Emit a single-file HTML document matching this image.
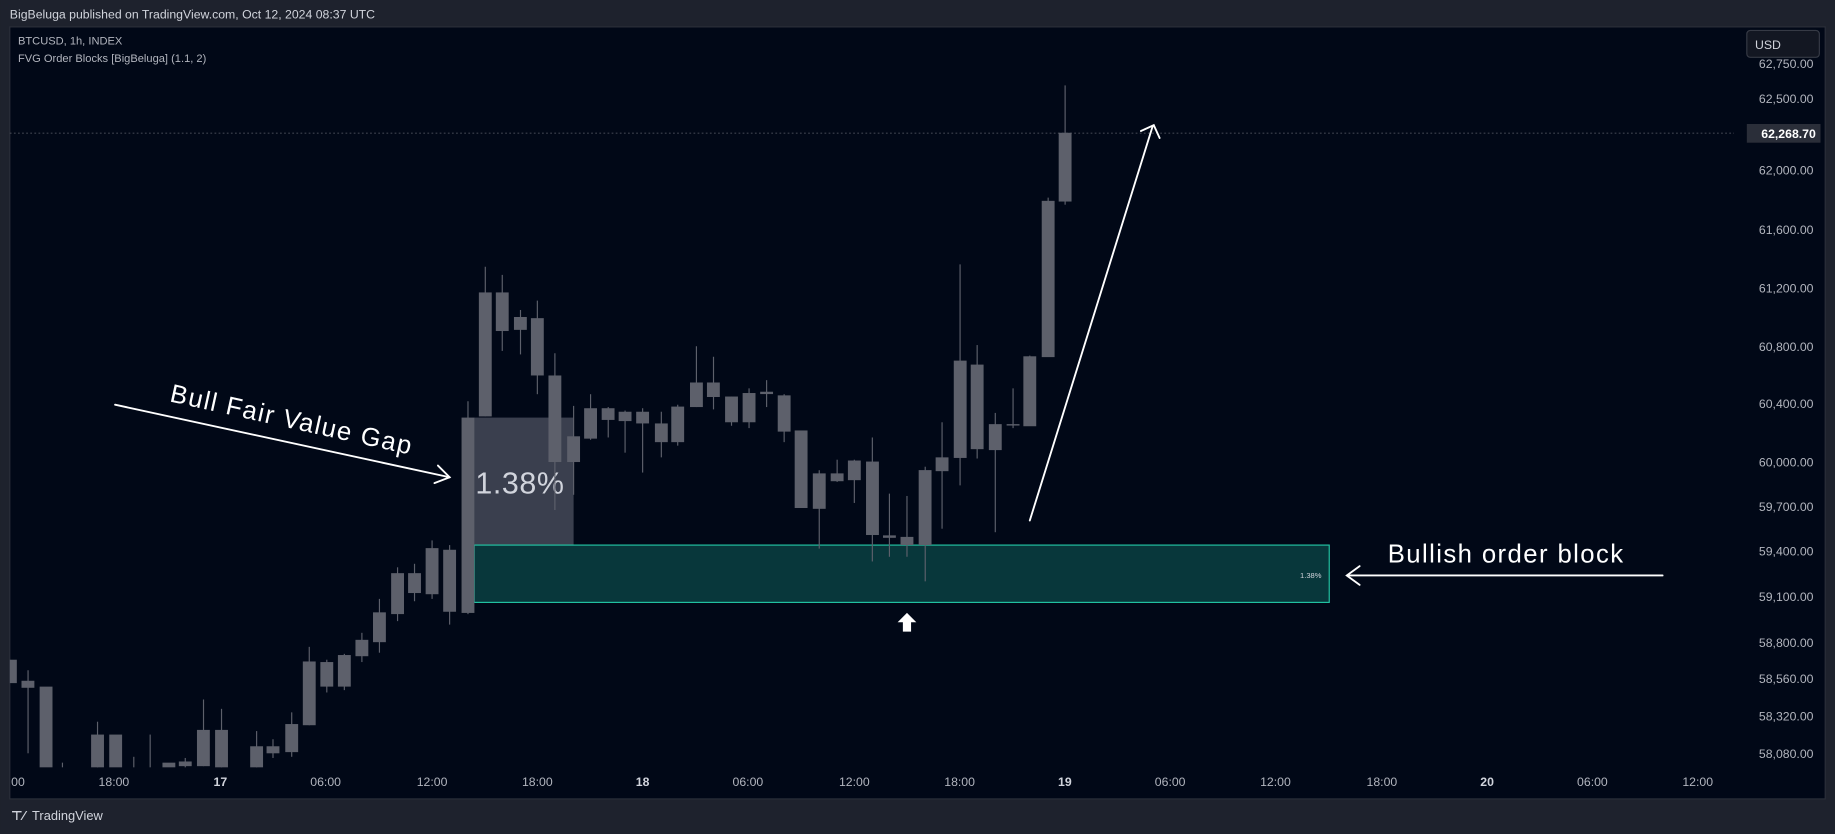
<!DOCTYPE html>
<html><head><meta charset="utf-8"><style>
html,body{margin:0;padding:0;background:#1e222d;}
svg{display:block}
text{font-family:"Liberation Sans","DejaVu Sans",sans-serif;}
</style></head><body>
<svg width="1835" height="834" viewBox="0 0 1568 713" xmlns="http://www.w3.org/2000/svg">
<rect x="0" y="0" width="1568" height="713" fill="#1e222d"/>
<text x="8" y="16" font-size="10.5" fill="#d1d4dc">BigBeluga published on TradingView.com, Oct 12, 2024 08:37 UTC</text>
<rect x="8" y="23" width="1552" height="660" fill="#010817" stroke="#2a2e39" stroke-width="1"/>
<text x="15" y="38" font-size="9.5" fill="#b2b5be">BTCUSD, 1h, INDEX</text>
<text x="15" y="53" font-size="9.5" fill="#b2b5be">FVG Order Blocks [BigBeluga] (1.1, 2)</text>
<rect x="405" y="357" width="85" height="109" fill="#3a3f4e"/>
<rect x="405" y="466" width="731" height="49" fill="#08373b" stroke="#22c4a3" stroke-width="1"/>
<text x="406" y="422" font-size="26" fill="#d1d4dc" letter-spacing="0.5">1.38%</text>
<text x="1111" y="494" font-size="6.5" fill="#d1d4dc">1.38%</text>
<line x1="8" y1="113.8" x2="1482" y2="113.8" stroke="#5d606b" stroke-width="0.6" stroke-dasharray="1.5,2"/>
<g stroke="#5d606b" stroke-width="1" fill="#5d606b">
<line x1="23.6" y1="573" x2="23.6" y2="644"/><line x1="53" y1="652" x2="53" y2="656"/><line x1="83" y1="617" x2="83" y2="656"/><line x1="114" y1="647" x2="114" y2="656"/><line x1="128" y1="628" x2="128" y2="656"/><line x1="158" y1="648" x2="158" y2="656"/><line x1="173.6" y1="598" x2="173.6" y2="655"/><line x1="189" y1="606" x2="189" y2="656"/><line x1="219" y1="625" x2="219" y2="656"/><line x1="233" y1="632" x2="233" y2="648"/><line x1="249" y1="609" x2="249" y2="647"/><line x1="264" y1="553" x2="264" y2="620"/><line x1="279" y1="564" x2="279" y2="592"/><line x1="294" y1="559" x2="294" y2="590"/><line x1="309" y1="541" x2="309" y2="566"/><line x1="324" y1="512" x2="324" y2="558"/><line x1="339.5" y1="485" x2="339.5" y2="531"/><line x1="354" y1="482" x2="354" y2="514"/><line x1="369" y1="462" x2="369" y2="512"/><line x1="384" y1="466" x2="384" y2="534"/><line x1="399.7" y1="343" x2="399.7" y2="525"/><line x1="414.5" y1="228" x2="414.5" y2="356"/><line x1="429" y1="235" x2="429" y2="300"/><line x1="444.6" y1="265" x2="444.6" y2="303"/><line x1="459" y1="257" x2="459" y2="337"/><line x1="474" y1="302" x2="474" y2="436"/><line x1="490" y1="347" x2="490" y2="423"/><line x1="504.5" y1="337" x2="504.5" y2="376"/><line x1="519.6" y1="348" x2="519.6" y2="374"/><line x1="534" y1="351" x2="534" y2="387"/><line x1="549" y1="349" x2="549" y2="404"/><line x1="565" y1="352" x2="565" y2="391"/><line x1="579" y1="346" x2="579" y2="381"/><line x1="595" y1="296" x2="595" y2="348"/><line x1="609.6" y1="305" x2="609.6" y2="350"/><line x1="625" y1="339" x2="625" y2="364"/><line x1="640" y1="332" x2="640" y2="366"/><line x1="655" y1="325" x2="655" y2="348"/><line x1="670" y1="337" x2="670" y2="378"/><line x1="700" y1="402" x2="700" y2="469"/><line x1="715.3" y1="393" x2="715.3" y2="412"/><line x1="730" y1="393" x2="730" y2="430"/><line x1="745.4" y1="374" x2="745.4" y2="480"/><line x1="760" y1="422" x2="760" y2="476"/><line x1="775" y1="424" x2="775" y2="476"/><line x1="790.6" y1="399" x2="790.6" y2="497"/><line x1="805" y1="361" x2="805" y2="452"/><line x1="820.4" y1="226" x2="820.4" y2="415"/><line x1="835" y1="295" x2="835" y2="392"/><line x1="850.5" y1="353" x2="850.5" y2="455"/><line x1="865.7" y1="332" x2="865.7" y2="366"/><line x1="880" y1="304" x2="880" y2="364"/><line x1="895.7" y1="169" x2="895.7" y2="305"/><line x1="910.2" y1="73" x2="910.2" y2="175"/>
</g>
<g fill="#5d606b">
<rect x="8" y="564" width="6" height="20"/><rect x="18" y="582" width="11" height="6"/><rect x="33.5" y="587" width="11" height="69"/><rect x="77.5" y="628" width="11" height="28"/><rect x="93" y="628" width="11" height="28"/><rect x="138.5" y="652" width="11" height="4"/><rect x="152.5" y="651" width="11" height="4"/><rect x="168" y="624" width="11" height="31"/><rect x="183.5" y="624" width="11" height="32"/><rect x="213.5" y="638" width="11" height="18"/><rect x="227.5" y="638" width="11" height="6"/><rect x="243.5" y="619" width="11" height="24"/><rect x="258.5" y="565.5" width="11" height="54.5"/><rect x="273.5" y="566" width="11" height="21"/><rect x="288.5" y="560" width="11" height="27"/><rect x="303.5" y="547" width="11" height="14"/><rect x="318.5" y="523.5" width="11" height="25.5"/><rect x="334" y="490" width="11" height="35"/><rect x="348.5" y="490" width="11" height="17"/><rect x="363.5" y="468.6" width="11" height="39.4"/><rect x="378.5" y="470" width="11" height="53"/><rect x="394.2" y="357" width="11" height="167"/><rect x="409" y="250" width="11" height="106"/><rect x="423.5" y="250" width="11" height="33"/><rect x="439" y="271" width="11" height="11"/><rect x="453.5" y="272" width="11" height="49"/><rect x="468.5" y="321" width="11" height="74"/><rect x="484.5" y="373" width="11" height="22"/><rect x="499" y="349" width="11" height="26"/><rect x="514" y="349" width="11" height="10"/><rect x="528.5" y="352" width="11" height="8"/><rect x="543.5" y="352" width="11" height="10"/><rect x="559.5" y="362" width="11" height="16"/><rect x="573.5" y="347.6" width="11" height="30.4"/><rect x="589.5" y="327" width="11" height="21"/><rect x="604" y="327" width="11" height="12.4"/><rect x="619.5" y="339" width="11" height="22"/><rect x="634.5" y="336" width="11" height="25"/><rect x="649.5" y="334.9" width="11" height="2"/><rect x="664.5" y="338" width="11" height="31"/><rect x="679" y="368" width="11" height="66.3"/><rect x="694.5" y="404.7" width="11" height="30.3"/><rect x="709.8" y="404.7" width="11" height="6.7"/><rect x="724.5" y="393.7" width="11" height="16.8"/><rect x="740" y="394.6" width="11" height="62.8"/><rect x="754.5" y="457.7" width="11" height="2.1"/><rect x="769.5" y="459" width="11" height="7"/><rect x="785" y="401.9" width="11" height="64.1"/><rect x="799.5" y="391" width="11" height="11.8"/><rect x="815" y="308.3" width="11" height="83.2"/><rect x="829.5" y="311.7" width="11" height="72.3"/><rect x="845" y="362.6" width="11" height="22.2"/><rect x="860.2" y="362.6" width="11" height="1.2"/><rect x="874.5" y="304.6" width="11" height="59.8"/><rect x="890.2" y="171.7" width="11" height="133.6"/><rect x="904.7" y="113.5" width="11" height="58.8"/>
</g>
<g stroke="#ffffff" stroke-width="1.6" fill="none" stroke-linecap="round">
<line x1="98" y1="346" x2="384" y2="408"/><polyline points="374,398 384,408 371,413"/>
<line x1="880" y1="445" x2="985" y2="108"/><polyline points="975,112 986,107 991,118"/>
<line x1="1421" y1="492" x2="1152" y2="492"/><polyline points="1162,484 1151,492 1162,500"/>
</g>
<text x="0" y="0" font-size="22" fill="#ffffff" letter-spacing="1.2" transform="translate(144,343) rotate(12.5)">Bull Fair Value Gap</text>
<text x="1186" y="481" font-size="22" fill="#ffffff" letter-spacing="1.2">Bullish order block</text>
<polygon points="775,524 767,532 771.5,532 771.5,540 778.5,540 778.5,532 783,532" fill="#ffffff"/>
<g font-size="10.5" fill="#b2b5be" text-anchor="end">
<text x="1550" y="58">62,750.00</text><text x="1550" y="88">62,500.00</text><text x="1550" y="149">62,000.00</text><text x="1550" y="200">61,600.00</text><text x="1550" y="250">61,200.00</text><text x="1550" y="300">60,800.00</text><text x="1550" y="349">60,400.00</text><text x="1550" y="399">60,000.00</text><text x="1550" y="437">59,700.00</text><text x="1550" y="475">59,400.00</text><text x="1550" y="514">59,100.00</text><text x="1550" y="553">58,800.00</text><text x="1550" y="584">58,560.00</text><text x="1550" y="616">58,320.00</text><text x="1550" y="648">58,080.00</text>
</g>
<rect x="1493" y="26" width="62" height="23" rx="3" fill="#131722" stroke="#363a45"/>
<text x="1500" y="42" font-size="10.5" fill="#d1d4dc">USD</text>
<rect x="1493" y="106" width="63" height="16" fill="#2a2e39"/>
<text x="1552" y="118" font-size="10.5" font-weight="bold" fill="#ffffff" text-anchor="end">62,268.70</text>
<g font-size="10.5" fill="#b2b5be" text-anchor="middle">
<text x="15" y="672">00</text><text x="97" y="672">18:00</text><text x="188" y="672" font-weight="bold" fill="#d1d4dc">17</text><text x="278" y="672">06:00</text><text x="369" y="672">12:00</text><text x="459" y="672">18:00</text><text x="549" y="672" font-weight="bold" fill="#d1d4dc">18</text><text x="639" y="672">06:00</text><text x="730" y="672">12:00</text><text x="820" y="672">18:00</text><text x="910" y="672" font-weight="bold" fill="#d1d4dc">19</text><text x="1000" y="672">06:00</text><text x="1090" y="672">12:00</text><text x="1181" y="672">18:00</text><text x="1271" y="672" font-weight="bold" fill="#d1d4dc">20</text><text x="1361" y="672">06:00</text><text x="1451" y="672">12:00</text>
</g>
<text x="9" y="701" font-size="11" font-weight="bold" fill="#d1d4dc">⊤⁄</text>
<text x="27" y="701" font-size="11" fill="#d1d4dc">TradingView</text>
</svg>
</body></html>
